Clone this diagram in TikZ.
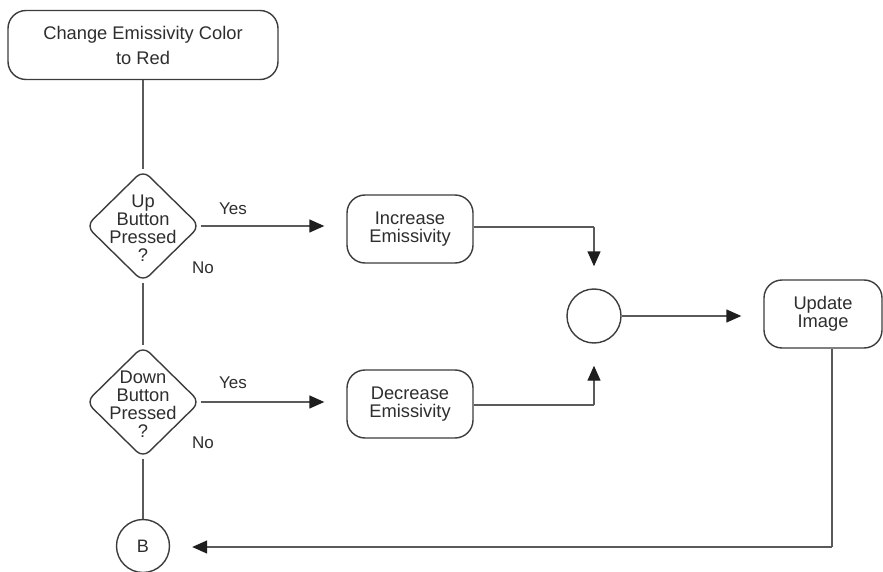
\documentclass[tikz,border=0pt]{standalone}
\usepackage{fontspec}
\setmainfont{Liberation Sans}
\usetikzlibrary{shapes.geometric,arrows.meta}
\definecolor{linegray}{HTML}{5A5A5A}
\definecolor{boxgray}{HTML}{3C3C3C}
\definecolor{txtgray}{HTML}{2E2E2E}
\definecolor{tipgray}{HTML}{1E1E1E}
\tikzset{
  box/.style={draw=boxgray, line width=1.4pt, rounded corners=18pt, fill=white,
    text=txtgray, align=center, inner sep=0pt},
  dia/.style={draw=boxgray, line width=1.4pt, diamond, rounded corners=9pt, fill=white,
    minimum width=114pt, minimum height=112pt, inner sep=0pt},
  circ/.style={draw=boxgray, line width=1.4pt, circle, fill=white, text=txtgray, inner sep=0pt},
  txt/.style={text=txtgray, align=center, inner sep=0pt},
  lbl/.style={text=txtgray, inner sep=0pt, font=\fontsize{17}{18}\selectfont},
  conn/.style={draw=linegray, line width=1.4pt},
  arr/.style={conn, -{Triangle[length=15pt,width=13pt,color=tipgray]}, shorten >=22pt},
}
\begin{document}
\begin{tikzpicture}[x=1pt,y=-1pt]
\useasboundingbox[fill=white] (0,0) rectangle (883,572);
% nodes
\node[box, minimum width=270pt, minimum height=69pt,
  font=\fontsize{18.3}{25}\selectfont] (start) at (143,45) {Change Emissivity Color\\to Red};
\node[dia] (d1) at (143,226) {};
\node[txt, font=\fontsize{18.3}{18}\selectfont] (d1t) at (143,228) {Up\\Button\\Pressed\\?};
\node[dia] (d2) at (143,402) {};
\node[txt, font=\fontsize{18.3}{18}\selectfont] (d2t) at (143,404) {Down\\Button\\Pressed\\?};
\node[box, minimum width=126pt, minimum height=68pt,
  font=\fontsize{18.3}{18}\selectfont] (inc) at (410,229) {Increase\\Emissivity};
\node[box, minimum width=126pt, minimum height=68pt,
  font=\fontsize{18.3}{18}\selectfont] (dec) at (410,404) {Decrease\\Emissivity};
\node[circ, minimum size=54pt] (j) at (594,316) {};
\node[box, minimum width=118pt, minimum height=68pt,
  font=\fontsize{18.3}{18}\selectfont] (upd) at (823,314) {Update\\Image};
\node[circ, minimum size=53pt, font=\fontsize{18}{18}\selectfont] (b) at (143,546) {B};
% labels
\node[lbl] (y1) at (233,209) {Yes};
\node[lbl] (n1) at (203,268) {No};
\node[lbl] (y2) at (233,383) {Yes};
\node[lbl] (n2) at (203,443) {No};
% connectors
\coordinate (c1) at (594,227);
\coordinate (c2) at (594,405);
\coordinate (c3) at (832,547);
\draw[conn] (start.south -| d1.north) -- (d1.north);
\draw[conn] (d1.south) -- (d2.north);
\draw[conn] (d2.south) -- (b.north);
\draw[arr] (d1.east) -- (d1.east -| inc.west);
\draw[arr] (d2.east) -- (d2.east -| dec.west);
\draw[conn] (inc.east |- c1) -- (c1);
\draw[arr] (c1) -- (j.north);
\draw[conn] (dec.east |- c2) -- (c2);
\draw[arr] (c2) -- (j.south);
\draw[arr] (j.east) -- (j.east -| upd.west);
\draw[conn] (upd.south -| c3) -- (c3);
\draw[arr] (c3) -- (b.east |- c3);
\end{tikzpicture}
\end{document}
